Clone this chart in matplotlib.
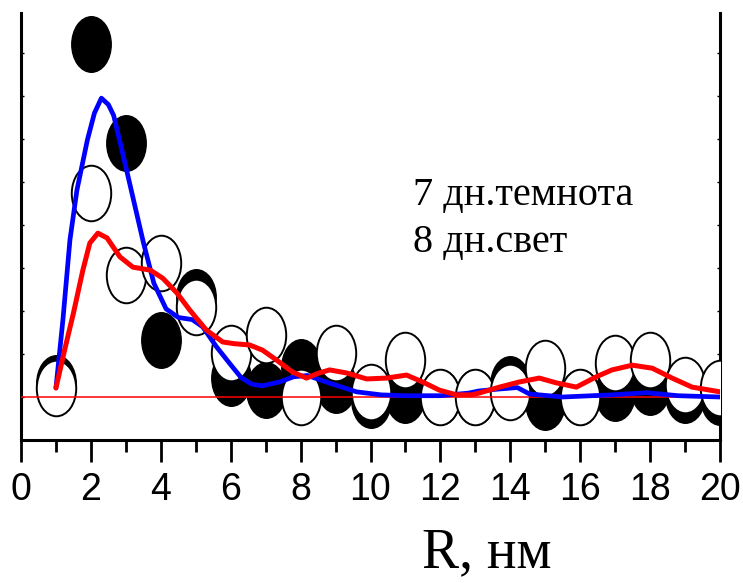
import matplotlib
matplotlib.use("Agg")
import matplotlib.pyplot as plt
from matplotlib.path import Path
from matplotlib.transforms import Affine2D
from matplotlib.ticker import MultipleLocator

# size distribution, R in nm
r = list(range(1, 21))
dark = [0.33, 8.2, 5.9, 1.33, 2.33, 0.44, 0.16, 0.7, 0.28, -0.07,
        0.05, 0.0, 0.0, 0.3, -0.12, 0.0, 0.1, 0.23, 0.05, 0.0]
light = [0.21, 4.74, 2.84, 3.12, 2.1, 1.02, 1.44, 0.0, 1.02, 0.12,
         0.86, 0.0, 0.0, 0.12, 0.67, 0.0, 0.8, 0.86, 0.28, 0.2]

blue_x = [1.0, 1.2, 1.4, 1.6, 1.9, 2.1, 2.3, 2.5, 2.65, 2.9, 3.2, 3.5, 3.8,
          4.15, 4.5, 4.9, 5.2, 5.6, 6.0, 6.3, 6.6, 6.9, 7.4, 7.8, 8.2, 8.8,
          9.6, 10.3, 11, 12, 12.8, 13.1, 13.6, 14.2, 14.55, 15.5, 16.9,
          17.9, 18.8, 20]
blue_y = [0.21, 1.8, 3.65, 4.81, 5.98, 6.6, 6.95, 6.8, 6.55, 5.7, 4.65, 3.6,
          2.65, 2.05, 1.85, 1.8, 1.63, 1.16, 0.75, 0.45, 0.3, 0.26, 0.35,
          0.47, 0.5, 0.33, 0.12, 0.05, 0.03, 0.03, 0.09, 0.14, 0.18, 0.22,
          0.07, 0.0, 0.05, 0.1, 0.03, 0.0]

red_x = [1.0, 1.25, 1.5, 1.77, 1.97, 2.2, 2.46, 2.83, 3.2, 3.7, 4.06, 4.46,
         4.83, 5.3, 5.77, 6.1, 6.54, 6.91, 7.31, 7.77, 8.17, 8.5, 8.83, 9.31,
         9.89, 10.46, 11.03, 11.49, 11.97, 12.46, 12.9, 13.1, 13.69, 14.26,
         14.83, 15.31, 15.89, 16.46, 16.91, 17.49, 18.06, 18.63, 19.2, 20]
red_y = [0.21, 1.1, 1.95, 2.95, 3.58, 3.81, 3.7, 3.26, 3.02, 2.95, 2.76,
         2.42, 2.02, 1.56, 1.28, 1.24, 1.21, 1.09, 0.86, 0.58, 0.44, 0.55,
         0.63, 0.56, 0.42, 0.44, 0.51, 0.35, 0.16, 0.05, 0.05, 0.09, 0.23,
         0.35, 0.44, 0.33, 0.23, 0.47, 0.63, 0.74, 0.67, 0.44, 0.23, 0.12]

labels = ["7 дн.темнота", "8 дн.свет"]

plt.rcParams['font.family'] = ['Liberation Sans', 'DejaVu Sans']

# tall ellipse marker
ell = Path.unit_circle().transformed(Affine2D().scale(0.71, 1.0))

fig = plt.figure(figsize=(7.43, 5.83), dpi=100)
ax = fig.add_axes([21 / 743, 1 - 440 / 583, 699 / 743, 427 / 583])

ax.plot(r, dark, linestyle="none", marker=ell, markersize=40,
        markerfacecolor="black", markeredgecolor="black", zorder=2)
ax.plot(r, light, linestyle="none", marker=ell, markersize=40,
        markerfacecolor="white", markeredgecolor="black",
        markeredgewidth=1.4, zorder=3)
ax.axhline(0, color="red", linewidth=1.1, zorder=4)
ax.plot(blue_x, blue_y, color="blue", linewidth=3.4, zorder=5,
        solid_joinstyle="round", solid_capstyle="round")
ax.plot(red_x, red_y, color="red", linewidth=3.6, zorder=6,
        solid_joinstyle="round", solid_capstyle="round")

ax.set_xlim(0, 20)
ax.set_ylim(-1, 8.93)

ax.xaxis.set_major_locator(MultipleLocator(2))
ax.xaxis.set_minor_locator(MultipleLocator(1))
ax.yaxis.set_major_locator(MultipleLocator(1))
ax.tick_params(axis="x", which="major", direction="out", length=16,
               width=2.0, labelsize=27, pad=7)
ax.tick_params(axis="x", which="minor", direction="out", length=8.5, width=2.0)
ax.tick_params(axis="y", which="major", direction="in", length=2.5,
               width=1.0, left=True, right=True, labelleft=False)

ax.spines["top"].set_visible(False)
for s in ["left", "right", "bottom"]:
    ax.spines[s].set_linewidth(2.2)

ax.set_xlabel("R, нм", family=["Liberation Serif", "DejaVu Serif"],
              fontsize=40)
ax.xaxis.set_label_coords(0.667, -0.205)

serif = ["Liberation Serif", "DejaVu Serif"]
ax.text(413, 583 - 205, labels[0], transform=None, fontsize=29,
        family=serif, va="baseline")
ax.text(413, 583 - 252, labels[1], transform=None, fontsize=29,
        family=serif, va="baseline")

fig.savefig("out.png", dpi=100)
